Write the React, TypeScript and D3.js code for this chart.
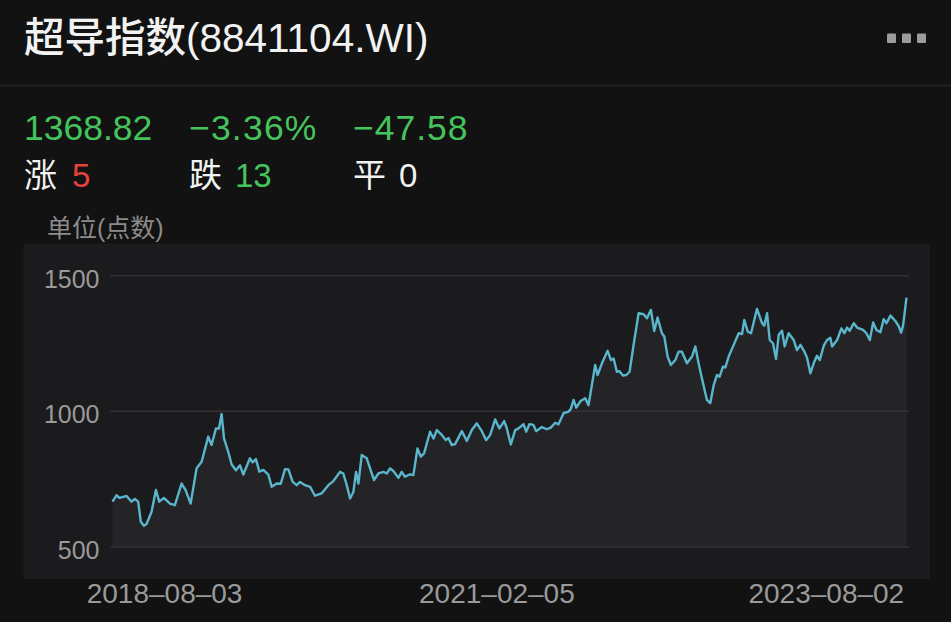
import React from "react";
import * as d3 from "d3";

// ---- data ----
const title = "超导指数(8841104.WI)";
const unitLabel = "单位(点数)";
const lastPrice = "1368.82";
const changePct = "−3.36%";
const changeAbs = "−47.58";
const upLabel = "涨";
const upCount = "5";
const downLabel = "跌";
const downCount = "13";
const flatLabel = "平";
const flatCount = "0";

const yTicks = [500, 1000, 1500];
const xTickDates = ["2018-08-03", "2021-02-05", "2023-08-02"];

// time as decimal years
const years = [
  2018.193, 2018.224, 2018.244, 2018.274, 2018.299, 2018.337, 2018.362, 2018.387, 2018.407, 2018.43,
  2018.45, 2018.488, 2018.521, 2018.546, 2018.581, 2018.627, 2018.664, 2018.715, 2018.745, 2018.783,
  2018.828, 2018.866, 2018.916, 2018.941, 2018.974, 2018.997, 2019.017, 2019.035, 2019.067, 2019.093,
  2019.125, 2019.156, 2019.181, 2019.231, 2019.251, 2019.276, 2019.302, 2019.332, 2019.37, 2019.395,
  2019.433, 2019.463, 2019.496, 2019.521, 2019.554, 2019.584, 2019.609, 2019.647, 2019.685, 2019.722,
  2019.773, 2019.823, 2019.861, 2019.911, 2019.936, 2019.962, 2019.987, 2020.012, 2020.032, 2020.05,
  2020.075, 2020.113, 2020.138, 2020.168, 2020.201, 2020.239, 2020.264, 2020.289, 2020.314, 2020.352,
  2020.377, 2020.402, 2020.44, 2020.465, 2020.496, 2020.521, 2020.546, 2020.591, 2020.617, 2020.642,
  2020.68, 2020.71, 2020.73, 2020.755, 2020.78, 2020.831, 2020.869, 2020.906, 2020.944, 2020.982,
  2021.015, 2021.045, 2021.083, 2021.115, 2021.151, 2021.171, 2021.201, 2021.234, 2021.259, 2021.297,
  2021.317, 2021.342, 2021.372, 2021.392, 2021.435, 2021.473, 2021.503, 2021.536, 2021.561, 2021.599,
  2021.637, 2021.654, 2021.675, 2021.695, 2021.73, 2021.763, 2021.788, 2021.838, 2021.856, 2021.889,
  2021.932, 2021.957, 2021.977, 2022.002, 2022.022, 2022.047, 2022.073, 2022.098, 2022.128, 2022.166,
  2022.204, 2022.229, 2022.259, 2022.284, 2022.309, 2022.342, 2022.36, 2022.385, 2022.41, 2022.443,
  2022.468, 2022.493, 2022.531, 2022.569, 2022.594, 2022.619, 2022.644, 2022.682, 2022.707, 2022.733,
  2022.758, 2022.778, 2022.803, 2022.821, 2022.846, 2022.884, 2022.922, 2022.947, 2022.964, 2022.99,
  2023.015, 2023.06, 2023.098, 2023.115, 2023.136, 2023.156, 2023.181, 2023.204, 2023.224, 2023.249,
  2023.269, 2023.299, 2023.337, 2023.362, 2023.388, 2023.418, 2023.438, 2023.463, 2023.488, 2023.513,
  2023.534, 2023.564, 2023.589, 2023.614, 2023.627, 2023.665, 2023.697, 2023.72, 2023.74, 2023.76,
  2023.791, 2023.816, 2023.861, 2023.886, 2023.912, 2023.937, 2023.962, 2023.992, 2024.017, 2024.038,
  2024.068, 2024.105, 2024.131, 2024.148, 2024.163, 2024.189,
];

const values = [
  667, 691, 681, 685, 688, 667, 677, 667, 593, 578,
  585, 630, 710, 667, 681, 660, 654, 734, 710, 660,
  790, 814, 907, 876, 937, 937, 990, 900, 851, 804,
  783, 801, 767, 827, 812, 824, 778, 784, 767, 722,
  734, 733, 787, 786, 740, 728, 740, 728, 722, 689,
  698, 728, 743, 777, 771, 728, 679, 703, 777, 734,
  839, 827, 790, 747, 771, 777, 771, 790, 780, 755,
  777, 759, 768, 765, 863, 833, 845, 925, 900, 931,
  913, 894, 902, 876, 879, 927, 891, 931, 956, 927,
  894, 913, 970, 937, 964, 937, 878, 931, 937, 953,
  925, 953, 950, 927, 942, 934, 940, 958, 952, 993,
  999, 1009, 1042, 1014, 1039, 1048, 1023, 1171, 1134, 1177,
  1223, 1189, 1195, 1146, 1148, 1132, 1134, 1146, 1245, 1362,
  1358, 1343, 1374, 1296, 1346, 1288, 1276, 1202, 1171, 1189,
  1220, 1220, 1177, 1202, 1239, 1177, 1122, 1042, 1030, 1097,
  1134, 1128, 1165, 1162, 1202, 1245, 1288, 1285, 1337, 1294,
  1288, 1378, 1325, 1316, 1362, 1263, 1251, 1193, 1282, 1297,
  1239, 1288, 1263, 1226, 1245, 1220, 1198, 1140, 1177, 1205,
  1189, 1242, 1263, 1271, 1239, 1263, 1306, 1288, 1309, 1297,
  1325, 1309, 1300, 1288, 1263, 1328, 1300, 1292, 1340, 1325,
  1353, 1333, 1313, 1290, 1316, 1419,
];

function decYear(s: string): number {
  const d = new Date(s + "T00:00:00Z");
  const y = d.getUTCFullYear();
  const a = Date.UTC(y, 0, 1);
  const b = Date.UTC(y + 1, 0, 1);
  return y + (d.getTime() - a) / (b - a);
}

const W = 951;
const H = 622;
const LATIN = "'Liberation Sans', 'Noto Sans CJK SC', sans-serif";

export default function App() {
  const plot = { left: 112.5, right: 906.5, top: 275.7, bottom: 547 };
  const x = d3.scaleLinear().domain([years[0], years[years.length - 1]]).range([plot.left, plot.right]);
  const y = d3.scaleLinear().domain([500, 1500]).range([plot.bottom, plot.top]);

  const pts = years.map((t, i) => [t, values[i]] as [number, number]);
  const line = d3.line<[number, number]>().x((d) => x(d[0])).y((d) => y(d[1]));
  const area = d3
    .area<[number, number]>()
    .x((d) => x(d[0]))
    .y0(y(500))
    .y1((d) => y(d[1]));

  const green = "#45c35c";
  const red = "#e8413c";
  const white = "#f2f2f2";

  return (
    <div style={{ position: "absolute", left: 0, top: 0, width: W, height: H }}>
      <svg width={W} height={H} style={{ display: "block" }}>
        <rect x={0} y={0} width={W} height={H} fill="#121212" />
        {/* title */}
        <text x={24} y={52} fill={white} fontSize={40.5} fontWeight={500} fontFamily={LATIN}>
          {title}
        </text>
        {[0, 1, 2].map((i) => (
          <rect key={i} x={887 + i * 15} y={33.5} width={9} height={9.5} rx={1} fill="#9c9c9c" />
        ))}
        <line x1={0} x2={W} y1={85.5} y2={85.5} stroke="#262626" strokeWidth={1.5} />

        {/* stats */}
        <g fontFamily={LATIN} fontSize={35.5}>
          <text x={24} y={140} fill={green}>{lastPrice}</text>
          <text x={189} y={140} fill={green} letterSpacing={1.2}>{changePct}</text>
          <text x={353} y={140} fill={green} letterSpacing={1}>{changeAbs}</text>
        </g>
        <g fontFamily={LATIN} fontSize={33}>
          <text x={24} y={187} fill={white}>{upLabel}</text>
          <text x={72} y={187} fill={red}>{upCount}</text>
          <text x={189} y={187} fill={white}>{downLabel}</text>
          <text x={235} y={187} fill={green}>{downCount}</text>
          <text x={353} y={187} fill={white}>{flatLabel}</text>
          <text x={399} y={187} fill={white}>{flatCount}</text>
        </g>
        <text x={47} y={237} fill="#8c8c8c" fontSize={25} fontFamily={LATIN}>
          {unitLabel}
        </text>

        {/* chart panel */}
        <rect x={23.5} y={243.5} width={906.5} height={335.5} fill="#1b1b1d" />
        <path d={area(pts) || ""} fill="#242426" />
        {yTicks.map((v) => (
          <g key={v}>
            <line x1={110.5} x2={909} y1={y(v)} y2={y(v)} stroke="#323236" strokeWidth={1.5} />
            <text
              x={99.5}
              y={y(v) + 3}
              textAnchor="end"
              dominantBaseline="central"
              fill="#9a9a9a"
              fontSize={25}
              fontFamily={LATIN}
            >
              {v}
            </text>
          </g>
        ))}
        <path d={line(pts) || ""} fill="none" stroke="#5ab6cc" strokeWidth={2.4} strokeLinejoin="round" />

        {xTickDates.map((s) => (
          <text
            key={s}
            x={x(decYear(s))}
            y={603}
            textAnchor="middle"
            fill="#9a9a9a"
            fontSize={28}
            fontFamily={LATIN}
          >
            {s.replace(/-/g, "–")}
          </text>
        ))}
      </svg>
    </div>
  );
}
